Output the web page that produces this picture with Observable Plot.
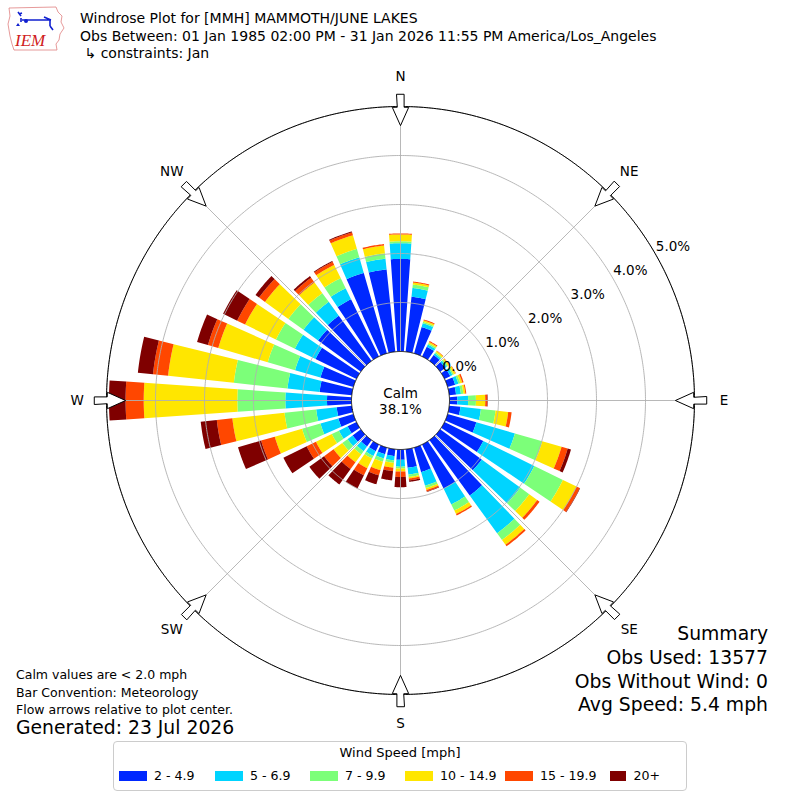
<!DOCTYPE html>
<html>
<head>
<meta charset="utf-8">
<script src="https://cdn.jsdelivr.net/npm/d3@7"></script>
<script src="https://cdn.jsdelivr.net/npm/@observablehq/plot@0.6"></script>
<style>
  body { margin: 0; background: #fff; font-family: "DejaVu Sans", sans-serif; color: #000; }
  #wrap { position: relative; width: 800px; height: 800px; overflow: hidden; background: #fff; }
  #chart { position: absolute; left: 0; top: 0; }
  #chart svg { display: block; }
  .abs { position: absolute; white-space: nowrap; }
  #title { left: 80px; top: 10px; font-size: 14px; line-height: 17.5px; }
  #notes { left: 16px; top: 666px; font-size: 12.5px; line-height: 17.5px; }
  #generated { left: 16px; top: 717px; font-size: 18.8px; line-height: 22px; }
  #summary { right: 32px; top: 622px; font-size: 18.8px; line-height: 23.8px; text-align: right; }
  #legend { left: 113px; top: 741px; width: 572px; height: 48px; border: 1px solid #cccccc; border-radius: 4px; background: #fff; }
  #legend .lt { text-align: center; font-size: 13px; margin-top: 2px; line-height: 18px; }
  #legend .row { display: flex; align-items: center; padding-left: 5px; margin-top: 6px; font-size: 12.6px; }
  #legend .item { display: flex; align-items: center; }
  #legend .sw { width: 28px; height: 10px; margin-right: 7px; }
</style>
</head>
<body>
<div id="wrap">
  <div id="chart"></div>
  <svg class="abs" style="left:6px;top:4px" width="62" height="50" viewBox="0 0 62 50">
    <path d="M3,4 L50,3 L52,8 L56,12 L55,18 L58,24 L54,30 L53,36 L50,40 L51,46 L8,46 L6,40 L4,32 L2,20 L4,12 Z" fill="none" stroke="#e08080" stroke-width="0.8"/>
    <path d="M12,8 L15,12 M13,10 L16,9 M15,14 L15,18 M16,16 L45,16 M38,13 L45,16 M44,16 L44,22 M44,22 L47,26" stroke="#1020d0" stroke-width="1.6" fill="none"/>
    <circle cx="20" cy="17" r="2" fill="#1020d0"/>
    <path d="M10,22 L14,22 L12,19 Z" fill="#1020d0"/>
    <text x="9" y="42" font-family="Liberation Serif" font-style="italic" font-size="17" fill="#d02020">IEM</text>
  </svg>
  <div class="abs" id="title">Windrose Plot for [MMH] MAMMOTH/JUNE LAKES<br>Obs Between: 01 Jan 1985 02:00 PM - 31 Jan 2026 11:55 PM America/Los_Angeles<br>&nbsp;↳ constraints: Jan</div>
  <div class="abs" id="notes">Calm values are &lt; 2.0 mph<br>Bar Convention: Meteorology<br>Flow arrows relative to plot center.</div>
  <div class="abs" id="generated">Generated: 23 Jul 2026</div>
  <div class="abs" id="summary">Summary<br>Obs Used: 13577<br>Obs Without Wind: 0<br>Avg Speed: 5.4 mph</div>
  <div class="abs" id="legend"><div class="lt">Wind Speed [mph]</div><div class="row" id="legendRow"></div></div>
</div>
<script>
// ---------------- data ----------------
const directions = d3.range(0, 360, 10); // 0,10,...,350 (degrees, direction wind is from)
const speedBins = ["2 - 4.9", "5 - 6.9", "7 - 9.9", "10 - 14.9", "15 - 19.9", "20+"];
const speedColors = ["#0028ff", "#00d4ff", "#7cff79", "#ffe600", "#ff4700", "#7f0000"];
// percent frequency per direction, one array per speed bin
const pct2to5 = [1.89, 1.13, 0.56, 0.22, 0.15, 0.13, 0.13, 0.16, 0.14, 0.16, 0.23, 0.61, 0.88, 1.05, 1.40, 1.00, 0.52, 0.38,
                 0.21, 0.14, 0.14, 0.15, 0.16, 0.21, 0.20, 0.32, 0.31, 0.50, 0.66, 0.70, 0.93, 1.08, 1.14, 1.30, 1.71, 1.69];
const pct5to7 = [0.32, 0.18, 0.08, 0.05, 0.04, 0.04, 0.05, 0.07, 0.10, 0.22, 0.42, 0.82, 1.16, 0.97, 0.95, 0.36, 0.29, 0.14,
                 0.14, 0.09, 0.09, 0.11, 0.12, 0.13, 0.20, 0.38, 0.42, 0.85, 0.66, 0.54, 0.47, 0.37, 0.35, 0.25, 0.33, 0.22];
const pct7to10 = [0.04, 0.07, 0.03, 0.03, 0.03, 0.03, 0.03, 0.04, 0.05, 0.16, 0.30, 0.58, 0.65, 0.23, 0.17, 0.14, 0.05, 0.05,
                  0.04, 0.05, 0.07, 0.06, 0.08, 0.13, 0.16, 0.39, 0.65, 0.98, 1.10, 0.58, 0.43, 0.38, 0.22, 0.23, 0.18, 0.11];
const pct10to15 = [0.14, 0.04, 0.03, 0.03, 0.03, 0.03, 0.04, 0.04, 0.04, 0.19, 0.26, 0.41, 0.31, 0.20, 0.12, 0.08, 0.04, 0.03,
                   0.06, 0.10, 0.18, 0.22, 0.20, 0.22, 0.36, 0.58, 1.07, 1.91, 1.35, 1.05, 0.70, 0.59, 0.27, 0.30, 0.29, 0.16];
const pct15to20 = [0.02, 0.02, 0.02, 0.02, 0.01, 0.01, 0.01, 0.03, 0.02, 0.04, 0.07, 0.13, 0.07, 0.06, 0.04, 0.03, 0.03, 0.04,
                   0.11, 0.07, 0.11, 0.16, 0.17, 0.24, 0.21, 0.29, 0.32, 0.37, 0.31, 0.22, 0.18, 0.15, 0.12, 0.07, 0.06, 0.03];
const pct20plus = [0, 0, 0, 0, 0, 0, 0, 0, 0, 0.01, 0, 0.07, 0.01, 0, 0, 0, 0.01, 0.03,
                   0.21, 0.19, 0.19, 0.30, 0.39, 0.37, 0.53, 0.49, 0.33, 0.34, 0.31, 0.23, 0.32, 0.09, 0.04, 0.02, 0.02, 0];
const calmLabel = "Calm\n38.1%";
const ringValues = [0, 1, 2, 3, 4, 5];               // radial tick values (%)
const compassDirs = [0, 45, 90, 135, 180, 225, 270, 315];
const compassLabels = ["N", "NE", "E", "SE", "S", "SW", "W", "NW"];

// ---------------- geometry helpers (polar via azimuthal projection) ----------------
const DEG_PER_UNIT = 10;   // arc degrees per 1 % on the radial axis
const PX_PER_UNIT = 49;    // pixels per 1 %
const CALM_R = 1;          // calm circle radius, in % units
const HALF = 3.95;         // half bar opening, degrees
const toLon = d => 180 - d;
const toLat = r => 90 - r * DEG_PER_UNIT;
const pt = (d, r) => [toLon(d), toLat(r)];
function feature(coords, props) {
  const f = {type: "Feature", properties: props || {}, geometry: {type: "Polygon", coordinates: [coords]}};
  if (d3.geoArea(f) > 2 * Math.PI) coords.reverse();
  return f;
}
function sector(d0, d1, r0, r1) {
  const n = Math.max(2, Math.ceil((d1 - d0) / 0.5));
  const pts = [];
  for (let i = 0; i <= n; i++) pts.push(pt(d0 + (d1 - d0) * i / n, r1));
  for (let i = n; i >= 0; i--) pts.push(pt(d0 + (d1 - d0) * i / n, r0));
  pts.push(pts[0].slice());
  return pts;
}
const circle = r => d3.geoCircle().center([0, 90]).radius(r * DEG_PER_UNIT).precision(0.5)();

const series = [pct2to5, pct5to7, pct7to10, pct10to15, pct15to20, pct20plus];
const wedges = [];
directions.forEach((dir, i) => {
  let cum = 0;
  series.forEach((s, j) => {
    const v = s[i];
    if (v > 0) wedges.push(feature(sector(dir - HALF, dir + HALF, CALM_R + cum, CALM_R + cum + v), {bin: speedBins[j]}));
    cum += v;
  });
});

// hollow flow arrows at the compass points (pointing to the center)
const offDeg = (px, r) => px / (r * PX_PER_UNIT) * 180 / Math.PI;
const arrows = compassDirs.map(d => {
  const tail = 6.25, base = 5.985, tip = 5.61, stem = 3.6, head = 8.2;
  const c = [
    pt(d - offDeg(stem, tail), tail), pt(d - offDeg(stem, base), base), pt(d - offDeg(head, base), base),
    pt(d, tip),
    pt(d + offDeg(head, base), base), pt(d + offDeg(stem, base), base), pt(d + offDeg(stem, tail), tail)
  ];
  c.push(c[0].slice());
  return feature(c);
});
const compass = compassDirs.map((d, i) => ({dir: d, label: compassLabels[i]}));

const chart = Plot.plot({
  width: 800,
  height: 800,
  margin: 0,
  style: {fontFamily: "DejaVu Sans", fontSize: "13.5px", background: "white", color: "black"},
  projection: {
    type: "azimuthal-equidistant",
    rotate: [0, -90],
    domain: d3.geoCircle().center([0, 90]).radius(400 / PX_PER_UNIT * DEG_PER_UNIT).precision(0.5)()
  },
  color: {domain: speedBins, range: speedColors},
  marks: [
    Plot.geo(wedges, {fill: d => d.properties.bin, stroke: "none"}),
    Plot.geo(ringValues.filter(v => v > 0).map(v => circle(CALM_R + v)), {fill: "none", stroke: "#b0b0b0", strokeWidth: 0.9}),
    Plot.link(compassDirs, {x1: d => toLon(d), y1: () => toLat(CALM_R), x2: d => toLon(d), y2: () => toLat(CALM_R + 5), stroke: "#b0b0b0", strokeWidth: 0.9}),
    Plot.geo([circle(CALM_R + 5)], {fill: "none", stroke: "black", strokeWidth: 1}),
    Plot.geo([circle(CALM_R)], {fill: "white", stroke: "black", strokeWidth: 1}),
    Plot.text([calmLabel], {x: () => 0, y: () => 90, text: d => d, lineHeight: 1.2, fontSize: 13.5}),
    Plot.text(ringValues, {x: () => toLon(60.5), y: v => toLat(CALM_R + v + 0.39), text: v => v.toFixed(1) + "%", fontSize: 13.5}),
    Plot.geo(arrows, {fill: "white", stroke: "black", strokeWidth: 1}),
    Plot.text(compass, {x: d => toLon(d.dir), y: () => toLat(6.6), text: "label", fontSize: 13.5})
  ]
});
document.getElementById("chart").appendChild(chart);

// legend (item widths tuned to the reference spacing)
const itemWidths = [96, 95, 95, 100, 105, 50];
const row = document.getElementById("legendRow");
speedBins.forEach((b, i) => {
  const it = document.createElement("div");
  it.className = "item";
  it.style.width = itemWidths[i] + "px";
  it.innerHTML = `<div class="sw" style="background:${speedColors[i]}"></div><span>${b}</span>`;
  row.appendChild(it);
});
</script>
</body>
</html>
